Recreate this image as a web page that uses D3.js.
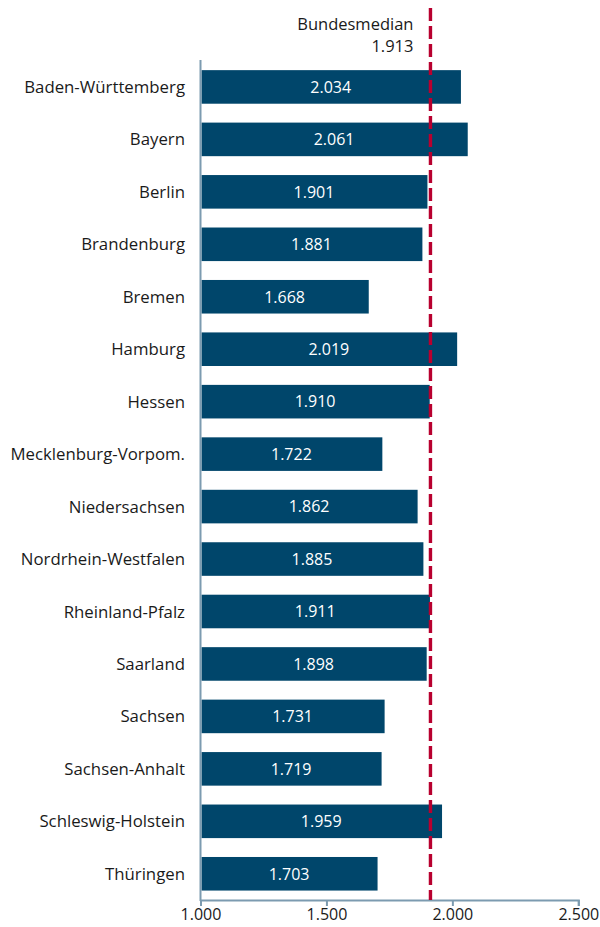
<!DOCTYPE html>
<html>
<head>
<meta charset="utf-8">
<script src="https://cdn.jsdelivr.net/npm/d3@7"></script>
<style>
  html, body { margin: 0; padding: 0; background: #fff; }
  svg text { font-family: "Open Sans", "Noto Sans", sans-serif; }
</style>
</head>
<body>
<svg id="chart" width="600" height="927"></svg>
<script>
const states = [
  "Baden-Württemberg", "Bayern", "Berlin", "Brandenburg", "Bremen", "Hamburg",
  "Hessen", "Mecklenburg-Vorpom.", "Niedersachsen", "Nordrhein-Westfalen",
  "Rheinland-Pfalz", "Saarland", "Sachsen", "Sachsen-Anhalt",
  "Schleswig-Holstein", "Thüringen"
];
const values = [2034, 2061, 1901, 1881, 1668, 2019, 1910, 1722, 1862, 1885,
  1911, 1898, 1731, 1719, 1959, 1703];
const medianValue = 1913;
const medianLabel = "Bundesmedian";
const xTicks = [1000, 1500, 2000, 2500];

const de = d3.formatLocale({ decimal: ",", thousands: ".", grouping: [3], currency: ["", " €"] });
const fmt = de.format(",.0f");

const svg = d3.select("#chart");
const margin = { left: 200.5, right: 21.7 };
const W = 600;

const x = d3.scaleLinear().domain([1000, 2500]).range([margin.left, W - margin.right]);
const y = d3.scaleBand().domain(states).range([60.7, 900]).paddingInner(0.36).paddingOuter(0.18);

// bars
svg.append("g").selectAll("rect").data(states).join("rect")
  .attr("x", x(1000) + 1)
  .attr("y", d => y(d))
  .attr("width", (d, i) => x(values[i]) - x(1000) - 1)
  .attr("height", y.bandwidth())
  .attr("fill", "#00466b");

// value labels inside bars
svg.append("g").selectAll("text").data(states).join("text")
  .attr("x", (d, i) => (x(1000) + x(values[i])) / 2)
  .attr("y", d => y(d) + y.bandwidth() / 2)
  .attr("dy", "0.36em")
  .attr("text-anchor", "middle")
  .attr("fill", "#fff")
  .attr("font-size", 16)
  .text((d, i) => fmt(values[i]));

// category labels
svg.append("g").selectAll("text").data(states).join("text")
  .attr("x", 185)
  .attr("y", d => y(d) + y.bandwidth() / 2)
  .attr("dy", "0.36em")
  .attr("text-anchor", "end")
  .attr("fill", "#1a1a1a")
  .attr("font-size", 16.8)
  .text(d => d);

// x axis
const axis = svg.append("g").attr("transform", `translate(0,900)`)
  .call(d3.axisBottom(x).tickValues(xTicks).tickFormat(fmt).tickSize(6).tickPadding(3));
axis.select(".domain").attr("stroke", "#7c9bb0").attr("stroke-width", 2);
axis.selectAll(".tick line").attr("stroke", "#7c9bb0").attr("stroke-width", 2);
axis.selectAll(".tick text").attr("font-size", 16).attr("fill", "#1a1a1a")
  .attr("font-family", "'Open Sans', 'Noto Sans', sans-serif");

// y axis line
svg.append("line")
  .attr("x1", x(1000)).attr("x2", x(1000))
  .attr("y1", 60).attr("y2", 901)
  .attr("stroke", "#7c9bb0").attr("stroke-width", 2);

// median line
svg.append("line")
  .attr("x1", x(medianValue)).attr("x2", x(medianValue))
  .attr("y1", 8).attr("y2", 900)
  .attr("stroke", "#b8002f").attr("stroke-width", 3.4)
  .attr("stroke-dasharray", "13,5");

const ml = svg.append("text")
  .attr("text-anchor", "end")
  .attr("fill", "#1a1a1a")
  .attr("font-size", 16.5);
ml.append("tspan").attr("x", x(medianValue) - 17).attr("y", 30).text(medianLabel);
ml.append("tspan").attr("x", x(medianValue) - 17).attr("y", 52).text(fmt(medianValue));
</script>
</body>
</html>
